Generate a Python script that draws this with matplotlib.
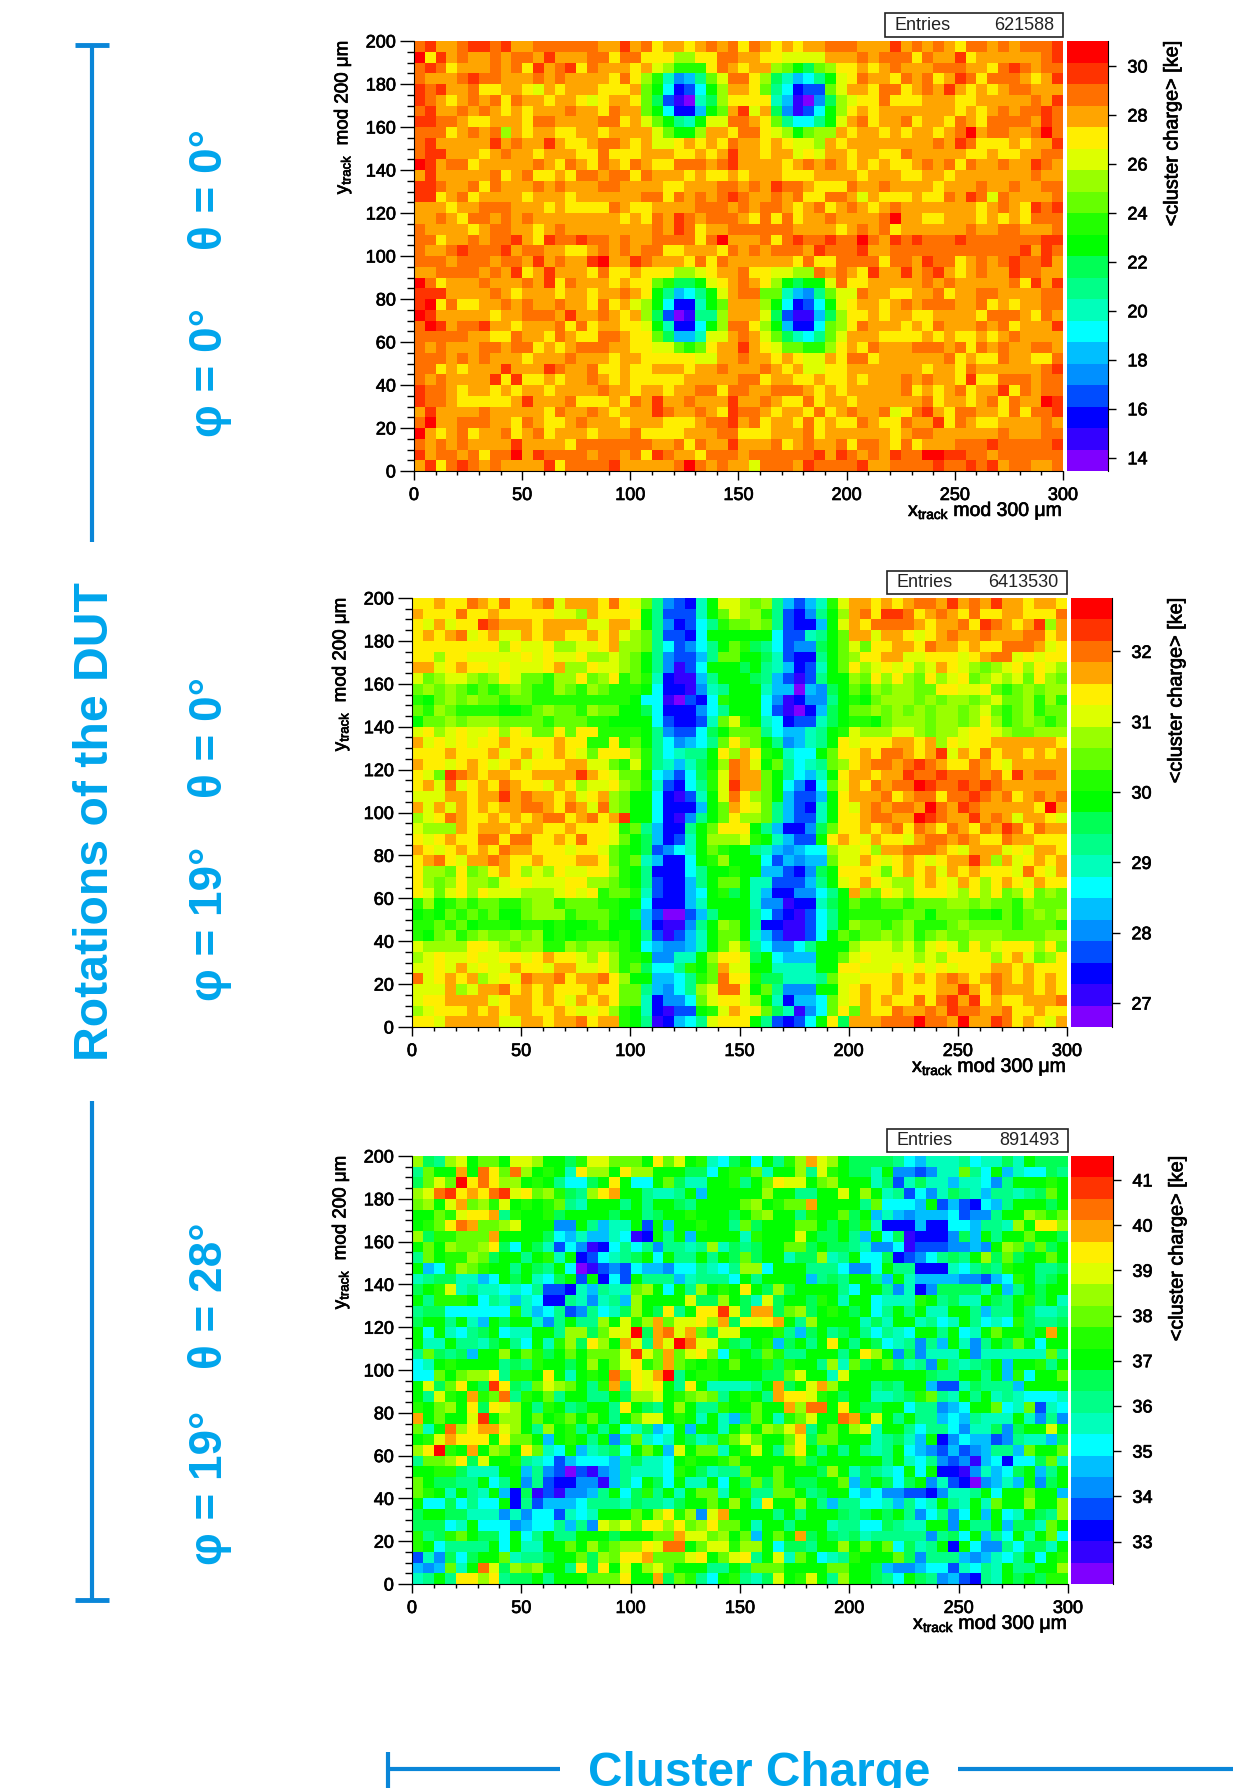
import numpy as np
import matplotlib
matplotlib.use('Agg')
import matplotlib.pyplot as plt
import matplotlib.patheffects as pe
from matplotlib.colors import ListedColormap, BoundaryNorm
from matplotlib.patches import Rectangle
from matplotlib.lines import Line2D

W, H = 1233, 1788
BLUE_TXT = '#00a5ec'
BLUE_LINE = '#0a86d8'

# 20 colour levels of the palette, lowest first
PALETTE = ['#7f00ff', '#3300ff', '#0000ff', '#004cff', '#0090ff', '#00bfff', '#00ffff',
           '#00ffbb', '#00ff88', '#00ff55', '#00ff00', '#22ff00', '#66ff00', '#99ff00',
           '#ddff00', '#ffee00', '#ffa500', '#ff7000', '#ff3300', '#ff0000']
LEVEL_CODES = '0123456789abcdefghij'

# colour level read per bin, top row (y = 195-200) first, 60 bins of 5 um per row
CHARGE_A = [
    "higghiihig ghhhhhhggi ghfggfghgh fhgfgfgghh hgggighghg fhhghghhhi",
    "jfighgghgh hgiggghhfh hfffddffhh ggffeeeegg ghghhhfhgg ifgggggghi",
    "hihfggghgh fighifhggg fgedbbbfhg fggdca9cdf fgfghggghh hggfhihghh",
    "hggghihhgg ghghggggfh fdb7458ceh hfd97568ae fhggfhghfg ihfhhhgfgi",
    "ihigghffgg fegfgggfff gca6236adg gfc86233ce ggfhhfghgi gfgfghhggg",
    "ihgfghghfh ggfggfefgg fc931079df fff751049d effhfffggg ffggggghgi",
    "higghghgfg fggghggfhg gca6225acg ieg94136ad fgfggggggg fgfghghhih",
    "iihhgffggg fhhgggghhf geca87aeeh hgfc8668ae ghfgghfggf hgfhhhhgih",
    "hhhfghghdg fggffggfgg ggecaadggf hhfedacddg fggfgfggfg hjghhgghjh",
    "higggggigh ggigffghhg fgeefgfgfh ggfgfeedgf gggggggghg ihfffgfggi",
    "hiigggfghg gfgggffhff fgggffgfgi ggfggefegg fggffhgggg gffgffgghh",
    "jighhfgggg ghgfhgfhgf hgffhhhghi ggggfghghg fgfgffghgh fhgghggihg",
    "giggggghfg hffgfhhghh fhgggfgffg fgggfffggg gfgggffggf ggggggghgg",
    "iihgghfhgg ghghggghhg gggffggghh ghgihhgfff hgghggggfg gghgghgghh",
    "iifghfgggg fgggfggggg ghhfhghghi hgghghffhh gegfffgffh gihehggggh",
    "gggfgghhhg ggfgffffhg ffgggghhhg hghhgfghfg hgfghggggg ggfghgfihi",
    "gghgfhhghg hggggggggf gfhgihghhh gfhfhfgghg ggghjggffg ggfgfgfhhh",
    "hggggfghhg gfghgggggg gghgihfggh hhhhhggggf ghghfggggg ghgghhgggh",
    "hhfgghghhi gfihhihhgh gghhhhfhjg gghfhihhih hjhgihihhh ihhhhhhhii",
    "hgghihhhig hhggffghgh ghhffgggfh ghghhhgihh higghhhhhh hhhhhhigih",
    "hhhghhhghh gighggijgg ihgggfhfhg gggggfhffh hhhfhhgihh fghghihhig",
    "gghhhhghgi fgigggfhff gfffddefgg hffeeddhgh gfiggighig fghggihhgg",
    "jhfggghggg hgifhgggfg ffcb99aefg hgfda9aaeh ffggggghgh ggggghfigi",
    "iiigggghgf gggfggfggh gfa8568aeg hhcc7548ce ehggffgghf gghhgggghh",
    "ijfhffgghg hgghggfhfg eda6227acg ggda6236ae fggfghghhh gghfgfgghh",
    "jigggggfgg hhhgigghgf gd930188dg gge931159d ffgfggffgg ggfhhhgfhg",
    "hjighhiggf ggghfhfggf fea7226adh hfda5226cd fhgggfgfhg gghghfgggi",
    "hhhhhggffh ggfhgffhhg ffc9557eeg hgec9768ce gggffffgfg ffgfghgggg",
    "hghggghhgh hfgfghhhgg ffeecbcfgg igfeccbbdf gfhggghhhg hfhghgghhg",
    "hhhghghggg fggghgggfg gfffffeegg hggfgfeegf hhfggggggh fgffhggffh",
    "hhfgfgggig ggihgghffg ffgggfgghg gghgfgeeff gggggggfgg fhgggggghi",
    "hghggggifi ffgfgghgfg fffffggggg hhfggffgff gfggghghgg fiffhhhghh",
    "ihhgfggfgf ggfgggghgg fggfgghhfh hgghhhgfgf ggggghfgfg hfggifhghh",
    "ihhgfffffg iggghfffgf hgigghgggi gghgffhfgg fgggggghfg gfghfhggji",
    "gigggghggg ggfhgghgfg ggihgghgfi hhgfggfhfg hgghefhigf hhggfhfhhi",
    "hjgghhhggf hgffghgggf gggfffghhi ghfggfhfgf fhgffhggif hgffgggghg",
    "jgfghfgghf ghfgggfggg hffffggghh fffggghfgg ggggfghhgg gggghggghh",
    "hghghggggi ggggfhhhhh hhgghfhggi ggghfghggh fhhgfhfggg hhhihhhhhi",
    "ighhghfhhj gihhhhghhg hfihggfhhh ghhhhhhigi hghgihhjji ihhghhhhhh",
    "gifhihghgg ggifhhhhig gggghjhghg gehhhgihhh higghhhhih hihighhggh",
]

CHARGE_B = [
    "ffgffhgfhf fghegggfhf ec84327aee dcd85357be ggfgfghhgi ghgiggfggf",
    "gfffhffgff fffeedgfff fa83337ace ddb83248ad ghfiihfghg fhffggfffh",
    "fegeffihgg gfggggeegg ea842368bc cdc83225ae gfhhhhgfgg hfihgfgidg",
    "fgfghefgee gfggffgfge dc83326aaa aaa63378ac ggeggfefgh gghggghhfg",
    "ffffffffdf eefddeefgd dc863468ac b9863449ac ecffggfhgg fgffhhhgef",
    "ffdffeeeee fefeefdded ca843358cc aa973228ac dffggeefff efghhefeff",
    "ggefgffefe eefgddfeed ca84136aaa 9a875237ac fdefefdegf edcdefdfed",
    "ecdeedcdfe ccbddfcdfb cb721158aa a9853138aa dcfdfdcfde fcdedecfdc",
    "cdcdcbcbcd cbbdcbdcbb ba6221478a aa7550549a cbdcddccff eefcbcdcdd",
    "bacdcdccbc cbbbbbbbbb a6610326ba aa6412448a bacdddcdcd dcdeccdbdb",
    "cbdcbbbbaa bcdccbdcca a96222468a aa6310259a ccdcdcdcdd cdecbcdbcc",
    "accdcdddcc ccbcccbbaa aa632237ce ba7623379a bbacdddcdd cdfdbcdcbc",
    "efdefeefdf eccfcffbbb ba843369ac cc865578ab edddeedcdd effedccddd",
    "gefefeffgf fffgffbbfb ca864568cf dca84578af efffggfgdf effggggggf",
    "fffgfffgef gefgfecfff db86788afd gfba766acf fgfhhgfgie gfhfggfgfg",
    "gffefgfefg efffggeecb eb87579adh geac8678cd fghhghihgf fhgfeggggg",
    "fecihgfggf fggggigfec ca65369beh ggca8657af ggfggihhih hhghfighhg",
    "fgehefgfhg ffegfdeefd cb73268bei ggca6426ce gfhghhjihh ihihgggggg",
    "eeeggfggig hggfgefgdc aa62137aeh fdca5335af ggghfghhfh hihghfghgh",
    "gegegfgfgg hhgfhgehdc aa62225acg fec85327af eghghhgjhg ihgggggfjg",
    "defhgffgfg fghhfghfgi aa62148acf ddc85337af fghhggjihg gighgeggfe",
    "edddgfgggf ggffgfffeb c85228acff fa852249cf fgfghfhgfh gfhgihfhgg",
    "fefgffhhfh hffgfhffec a95237addd eba7533afg fegffeghhg hgffhggfff",
    "gfefgfgfhg gfffeffecb a93467acba a8754566de efdgghhhgf egggefeggf",
    "fghfegghgf fgfffggfcb c75226abda aa635455ce egfefgfefg gigdgefgfg",
    "fddcfcdfgf dedfeeffdb a822268aab aa553249af ffecfgfgeg fgfffehfeg",
    "fdcdfddcef feeeffddcb a832258acc a7733358ae fgfeddfgfe gfdfgfegff",
    "fecefdfeee dddefefbcc b732256ab9 a75224468a gdcfedfffe dfdfcdfcdc",
    "bdabcbccbb cddbcccbba a622257aaa a74412279a cbbccbcccd dcdccbdccc",
    "abacbcbcaa cdddbcccba 95300358aa a86321368a bbbbbccacc cbbacbcdcd",
    "bbcbcabbba bbabaabcaa a521148adc a82211368a dccbcdbbbc dccccbcccb",
    "bacdbcdccd cdababbbab a831357acc a7531136ac bccdcdbcdc cdddccccdd",
    "eddddffedc ddbbdcddcb a654457ace c864468aaa deeedecefe cfdefffdfc",
    "defeefeeff efgffedfdb ba4477adff e9a6555aac efeeeededf fffdfgecdf",
    "eefegefeeg ffeggeefdb c9668bacge eaa7777aaf feeefefefe fffggfgfff",
    "hefgfgdefe hgghfgghfd aa5568bchf fb997778ce efffgfgfgh gfghgfgfgf",
    "eeegdegghf gfgfffgffc c85468dehh eac8444aae fgffgfffgg igfhgggfgf",
    "effggggefg gfgfegfgfc c72446ceff eda72556ce fgfgffhfhi gifgffgggh",
    "defffgfgfg gffgfeefdb a72133abeg ffc97146cf cgffhgghgi hhgghffgff",
    "ffegggggee ggfgghfggb a812568eff fa83236af9 ggghhhjhhg jggihfgfeg",
]

CHARGE_C = [
    "d98deaccae edaa9beecc cafceab769 a6a8bdgeda 9999865777 867797a999",
    "8caagahfch daba7fddaf ddaaa996ab bc7aad8eba 997a443477 c86a576698",
    "9cecjfhfdd aba8669afa 66ac977aab 8acfeeacda aa79379775 77648aaaba",
    "dehifgfhie fcdb98dfga a8778a5aaa aadaa88aae ada7836479 87588789ca",
    "cdaegcdbea babc87aaa8 a8aa98aaaa cdabccgaaa a8c6665a35 32658aaa9a",
    "aacbeffg8b aab9aaaa9a a89aabaaa9 acdaa8baac 9a57545556 3448aadcbc",
    "abcfhgccde aaa44a8577 a3a5aabaa8 c9aaacca9a 9b72225226 65887daffd",
    "d9bbcccgaa aa96575576 12a8a5aaaa 7baaaea99a 85a6912224 95a8aacaa9",
    "acadccdf96 a973641268 6848878d79 89aacc9a99 8744613334 454adc9c9a",
    "8cabbdc9aa 8ab7a23678 9a6a88a8a9 c9aa799d78 a669234689 8ad9c9aaca",
    "a56bdcbaa8 a98a601343 6554668768 dd6aaa8886 446a882227 6898baa889",
    "78997756a9 a769a3a263 a888578886 a8aaaa5898 aa85a75555 44356ba89a",
    "9abe787767 6833275877 cda6a8daba fa9d9aaaa8 6aa8472499 997a58a9aa",
    "a8bbba6875 7622874785 daaaae99da 97e9aa9ba7 aa6777ba89 77a98ab9a7",
    "899666666b 7568348679 da9f8affie 9gg9cd9aba 9a68a8a77a a8588a9778",
    "9aa8a75a9a a748a88dae bdgceefdg9 fefga8daaa a797aa7867 a8676b9889",
    "a6a7689a67 7aa8dd9cee j9ghegc9ee aaab859a89 a86876aa8a 67acaa9aga",
    "a77a8879a8 6a7bd9fdag e8gejheeb9 8ab59a8afa 8a96784 85a 748a9ca6aa",
    "8c9895aada cb9acaccce iecgcefc6b a9cb88aaa8 afda494777 a4777777c8",
    "67abaaaa89 8baa9adace fbcgcbabac aab9baa8d7 c9ac9784b8 789a5aab8a",
    "66cacddf8b bafa7abahc fegj8abbaa aa99ceaa7e aaaaaaa988 aa8a5b6aac",
    "ae9cfa9if9 8cedca8bg8 fefa8fa777 78ag9aegda aa898aa533 798885aaaa",
    "a8ebagbch8 bac8aa88a9 ddeabcdc8a ba8gffeba9 aa7789bc87 a8a7876667",
    "bacdaf9fed a8ba89aa8f a98ada88ba acaagdhhaf a99aa68845 6aac67c376",
    "gacaaeiadd acabcaca8a ceeaba7a75 9ca7bceaah gaea8a8856 58777a7484",
    "c7ahdfgged a8dab8a8a6 7956a5aa7a cadceg8aca de7aa86886 477949aaea",
    "abegfffafc ca5aba8a49 c767a978bc ecaacf9cca aa78975a24 6553487759",
    "dfjbagadca fc76a57896 aca5eacc7a bea8dfa8a8 a878a65435 345885caac",
    "8ccdf9eaab 8763566658 9776abaabc aaaaac9aaa aaa8a76843 41562669c7",
    "aabb9777aa 5843031458 7776ba9788 caacaaa9da 79876a6a22 147569a58a",
    "ca9988a68a 4832244158 6a96a77a6a 9c9ca99aac 59a969a473 204575a49a",
    "cba7a87a52 91314458a6 9b8a7acc7a b88cca89aa 6564433247 78a6aacaa5",
    "a6696866a2 8355568887 98879aacad a7faada858 86675867a8 7a7caadaad",
    "9aa9977747 4663767aaa cadfbd4ega aaa8a8aaa9 89a9a84684 6a5a67a98d",
    "99967a6664 566858 4ede cffdfcdfcc a7aa8aaa78 8669877aa4 a88a5997ca",
    "b89bca996a 68a88aaa9a aaccgeecda c5acag9a98 9788888489 6a586a7ac6",
    "ba68888a6a 77aacadbcd dfehhaceeb dda6998aad acac6978a2 a64486997a",
    "374969aac7 889aac9dcf fgccceface f8ae7ca678 baaac94888 5457 68a6ab",
    "545c7ahe9d cdaa8f9fae adecaaa88a 9cccaaaacc aa95445663 7687a88aad",
    "78a8ffdf89 9a8aaacccf aag9cb86ab 879eabea8d aa986a9845 3287a9a9bb",
]

X_EDGES = np.arange(0, 305, 5)
Y_EDGES = np.arange(0, 205, 5)

ENTRIES = ['621588', '6413530', '891493']
Z_RANGES = [(13.46, 31.02), (26.66, 32.76), (32.06, 41.53)]
Z_TICKS = [[14, 16, 18, 20, 22, 24, 26, 28, 30],
           [27, 28, 29, 30, 31, 32],
           [33, 34, 35, 36, 37, 38, 39, 40, 41]]

# pixel boxes: left, right, top, bottom, bar left, bar right, stat box left, top, bottom
BOXES = [(414, 1063, 41, 471, 1067, 1108, 885, 13, 37),
         (412, 1067, 598, 1027, 1071, 1112, 887, 571, 594),
         (412, 1068, 1156, 1584, 1071, 1113, 887, 1129, 1152)]

ANGLES = [('φ = 0°', 437, 'θ = 0°', 250),
          ('φ = 19°', 1001, 'θ = 0°', 798),
          ('φ = 19°', 1565, 'θ = 28°', 1369)]

plt.rcParams['font.family'] = ['Liberation Sans', 'DejaVu Sans']
plt.rcParams['mathtext.fontset'] = 'custom'
plt.rcParams['mathtext.rm'] = 'Liberation Sans'
plt.rcParams['mathtext.it'] = 'Liberation Sans'
plt.rcParams['mathtext.bf'] = 'Liberation Sans:bold'


def fx(x):
    return x/W


def fy(y):
    return 1 - y/H


def axes_px(fig, l, r, t, b):
    return fig.add_axes([fx(l), fy(b), (r - l)/W, (b - t)/H])


def decode(rows, zmin, zmax):
    step = (zmax - zmin)/len(PALETTE)
    grid = []
    for row in rows:
        row = row.replace(' ', '')
        row = row.ljust(60, row[-1])[:60]
        grid.append([zmin + (LEVEL_CODES.index(c) + 0.5)*step for c in row])
    return np.array(grid)[::-1]


def heavy(texts):
    # reference text is a bit thicker than plain Liberation Sans
    for t in texts:
        t.set_path_effects([pe.withStroke(linewidth=0.5, foreground=t.get_color())])


def panel(fig, rows, zrange, zticks, entries, box):
    l, r, t, b, bl, br, sl, st, sb = box
    ax = axes_px(fig, l, r, t, b)
    cax = axes_px(fig, bl, br, t, b)
    cmap = ListedColormap(PALETTE)
    norm = BoundaryNorm(np.linspace(zrange[0], zrange[1], 21), 20)
    mesh = ax.pcolormesh(X_EDGES, Y_EDGES, decode(rows, *zrange), cmap=cmap, norm=norm)

    ax.set_xlim(0, 300)
    ax.set_ylim(0, 200)
    ax.set_xticks(np.arange(0, 301, 50))
    ax.set_xticks(np.arange(0, 301, 10), minor=True)
    ax.set_yticks(np.arange(0, 201, 20))
    ax.set_yticks(np.arange(0, 201, 5), minor=True)
    ax.spines['top'].set_visible(False)
    ax.spines['right'].set_visible(False)
    ax.tick_params(axis='x', which='major', length=6.5, width=1, labelsize=13, pad=5)
    ax.tick_params(axis='x', which='minor', length=3.2, width=1)
    ax.tick_params(axis='y', which='major', length=10, width=1, labelsize=13, pad=3)
    ax.tick_params(axis='y', which='minor', length=5, width=1)
    heavy(ax.get_xticklabels() + ax.get_yticklabels())

    xl = fig.text(fx(r), fy(b + 45), r'$\mathregular{x_{track}}$ mod 300 μm', ha='right',
                  va='baseline', fontsize=14)
    yl = fig.text(fx(l - 71), fy(t - 1), r'$\mathregular{y_{track}}$  mod 200 μm', rotation=90,
                  ha='center', va='top', fontsize=13.5)

    cb = fig.colorbar(mesh, cax=cax, spacing='proportional')
    cb.outline.set_visible(False)
    cax.spines['right'].set_visible(True)
    cb.set_ticks(zticks)
    cb.set_ticklabels([str(v) for v in zticks])
    cax.minorticks_off()
    cax.tick_params(which='major', length=6, width=1, labelsize=13, pad=8)
    heavy(cax.get_yticklabels())
    zl = fig.text(fx(br + 64), fy(t - 1), '<cluster charge> [ke]', rotation=90, ha='center',
                  va='top', fontsize=14.3)
    heavy([xl, yl, zl])

    fig.add_artist(Rectangle((fx(sl), fy(sb)), (r - sl)/W, (sb - st)/H, transform=fig.transFigure,
                             facecolor='white', edgecolor='#222222', linewidth=1.2))
    fig.text(fx(sl + 9), fy((st + sb)/2), 'Entries', ha='left', va='center', fontsize=13,
             color='#222222')
    fig.text(fx(r - 9), fy((st + sb)/2), entries, ha='right', va='center', fontsize=13,
             color='#222222')


def line_px(fig, x0, y0, x1, y1, lw):
    fig.add_artist(Line2D([fx(x0), fx(x1)], [fy(y0), fy(y1)], transform=fig.transFigure,
                          color=BLUE_LINE, linewidth=lw, solid_capstyle='butt'))


def main():
    fig = plt.figure(figsize=(W/100, H/100), dpi=100)

    for rows, zr, zt, ent, box in zip([CHARGE_A, CHARGE_B, CHARGE_C], Z_RANGES, Z_TICKS, ENTRIES, BOXES):
        panel(fig, rows, zr, zt, ent, box)

    # left bracket
    line_px(fig, 92, 45, 92, 542, 3)
    line_px(fig, 75, 45, 109, 45, 3.5)
    line_px(fig, 92, 1101, 92, 1600, 3)
    line_px(fig, 75, 1600, 109, 1600, 3.5)
    fig.text(fx(108), fy(1061), 'Rotations of the DUT', rotation=90, rotation_mode='anchor',
             ha='left', va='baseline', fontsize=34.7, fontweight='bold', color=BLUE_TXT)

    for phi, phi_y, theta, theta_y in ANGLES:
        fig.text(fx(222), fy(phi_y), phi, rotation=90, rotation_mode='anchor', ha='left',
                 va='baseline', fontsize=33, fontweight='bold', color=BLUE_TXT)
        fig.text(fx(222), fy(theta_y), theta, rotation=90, rotation_mode='anchor', ha='left',
                 va='baseline', fontsize=33, fontweight='bold', color=BLUE_TXT)

    # bottom bracket
    line_px(fig, 388, 1752, 388, 1788, 3)
    line_px(fig, 388, 1769, 560, 1769, 3)
    line_px(fig, 958, 1769, 1233, 1769, 3)
    fig.text(fx(759), fy(1786), 'Cluster Charge', ha='center', va='baseline', fontsize=34.4,
             fontweight='bold', color=BLUE_TXT)

    fig.savefig('out.png', dpi=100)


if __name__ == "__main__":
    main()
